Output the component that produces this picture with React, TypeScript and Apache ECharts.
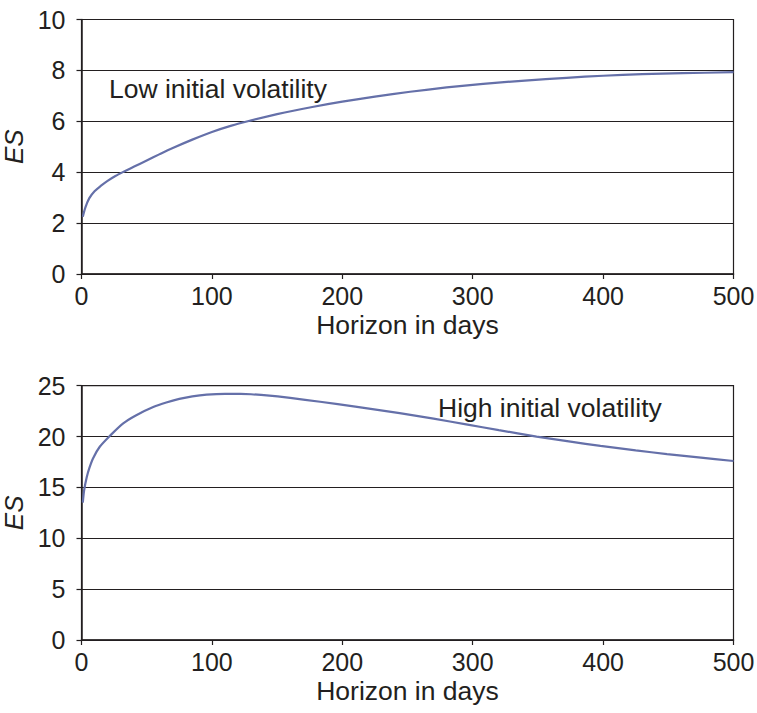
import React, { useEffect, useRef } from "react";
import * as echarts from "echarts";

// Top panel: low initial volatility
const lowDays = [1, 3, 6, 10, 15, 20, 26, 32, 40, 50, 60, 70, 85, 100, 115, 129, 150, 178, 200, 225, 252, 280, 308, 340, 372, 400, 430, 461, 500];
const lowES = [2.25, 2.62, 2.98, 3.25, 3.47, 3.66, 3.85, 4.01, 4.21, 4.46, 4.71, 4.95, 5.28, 5.58, 5.83, 6.02, 6.28, 6.57, 6.77, 6.97, 7.16, 7.33, 7.47, 7.6, 7.71, 7.79, 7.85, 7.89, 7.93];

// Bottom panel: high initial volatility
const highDays = [1, 2, 4, 6, 9, 14, 22, 32, 42, 55, 65, 75, 85, 96, 110, 122, 130, 142, 160, 183, 210, 244, 270, 295, 320, 349, 375, 398, 425, 449, 475, 500];
const highES = [13.5, 14.7, 16.0, 16.9, 17.9, 19.0, 20.1, 21.3, 22.1, 22.9, 23.35, 23.7, 23.95, 24.12, 24.2, 24.2, 24.16, 24.05, 23.8, 23.42, 22.95, 22.3, 21.76, 21.2, 20.63, 20.0, 19.5, 19.08, 18.64, 18.28, 17.93, 17.6];

const xTicks = { min: 0, max: 500, interval: 100 };
const topTicks = { min: 0, max: 10, interval: 2 };
const bottomTicks = { min: 0, max: 25, interval: 5 };

const xLabel = "Horizon in days";
const yLabel = "ES";
const lowNote = "Low initial volatility";
const highNote = "High initial volatility";

const FONT = "'Liberation Sans', Arial, Helvetica, sans-serif";
const INK = "#231f20";
const LINE = "#6570a9";

export default function App() {
  const ref = useRef<HTMLDivElement>(null);
  useEffect(() => {
    if (!ref.current) return;
    const chart = echarts.init(ref.current, undefined, { renderer: "svg" });
    const xAxisBase = (gridIndex: number) => ({
      type: "value" as const,
      gridIndex,
      ...xTicks,
      name: xLabel,
      nameLocation: "middle" as const,
      nameGap: 37,
      nameTextStyle: { fontFamily: FONT, fontSize: 26.5, color: INK },
      axisLine: { show: true, lineStyle: { color: INK, width: 1.5 } },
      axisTick: { show: true, length: 5, lineStyle: { color: INK, width: 1.2 } },
      axisLabel: { fontFamily: FONT, fontSize: 25, color: INK, margin: 9 },
      splitLine: { show: false },
    });
    const yAxisBase = (gridIndex: number, t: { min: number; max: number; interval: number }) => ({
      type: "value" as const,
      gridIndex,
      ...t,
      name: yLabel,
      nameLocation: "middle" as const,
      nameGap: 48,
      nameTextStyle: { fontFamily: FONT, fontSize: 26, color: INK, fontStyle: "italic" as const },
      axisLine: { show: true, lineStyle: { color: INK, width: 1.5 } },
      axisTick: { show: true, length: 5, lineStyle: { color: INK, width: 1.2 } },
      axisLabel: { fontFamily: FONT, fontSize: 25, color: INK, margin: 16 },
      splitLine: { show: true, lineStyle: { color: INK, width: 1.2 } },
    });
    const gridBase = {
      left: 81.5,
      width: 652,
      show: true,
      borderColor: INK,
      borderWidth: 1.2,
      backgroundColor: "transparent",
      containLabel: false,
      outerBoundsMode: "none",
    };
    chart.setOption({
      animation: false,
      backgroundColor: "#ffffff",
      grid: [
        { ...gridBase, top: 19.5, height: 254.5 },
        { ...gridBase, top: 385.7, height: 254.3 },
      ],
      xAxis: [xAxisBase(0), xAxisBase(1)],
      yAxis: [yAxisBase(0, topTicks), yAxisBase(1, bottomTicks)],
      series: [
        {
          type: "line",
          xAxisIndex: 0,
          yAxisIndex: 0,
          data: lowDays.map((d, i) => [d, lowES[i]]),
          showSymbol: false,
          smooth: 0.3,
          lineStyle: { color: LINE, width: 2.2 },
        },
        {
          type: "line",
          xAxisIndex: 1,
          yAxisIndex: 1,
          data: highDays.map((d, i) => [d, highES[i]]),
          showSymbol: false,
          smooth: 0.3,
          lineStyle: { color: LINE, width: 2.2 },
        },
      ],
      graphic: [
        {
          type: "text",
          left: 109,
          top: 75,
          style: { text: lowNote, fontFamily: FONT, fontSize: 26.5, fill: INK },
        },
        {
          type: "text",
          left: 438,
          top: 394,
          style: { text: highNote, fontFamily: FONT, fontSize: 26.5, fill: INK },
        },
      ],
    });
    return () => chart.dispose();
  }, []);
  return (
    <div
      ref={ref}
      style={{ position: "absolute", left: 0, top: 0, width: 757, height: 713, background: "#fff" }}
    />
  );
}
